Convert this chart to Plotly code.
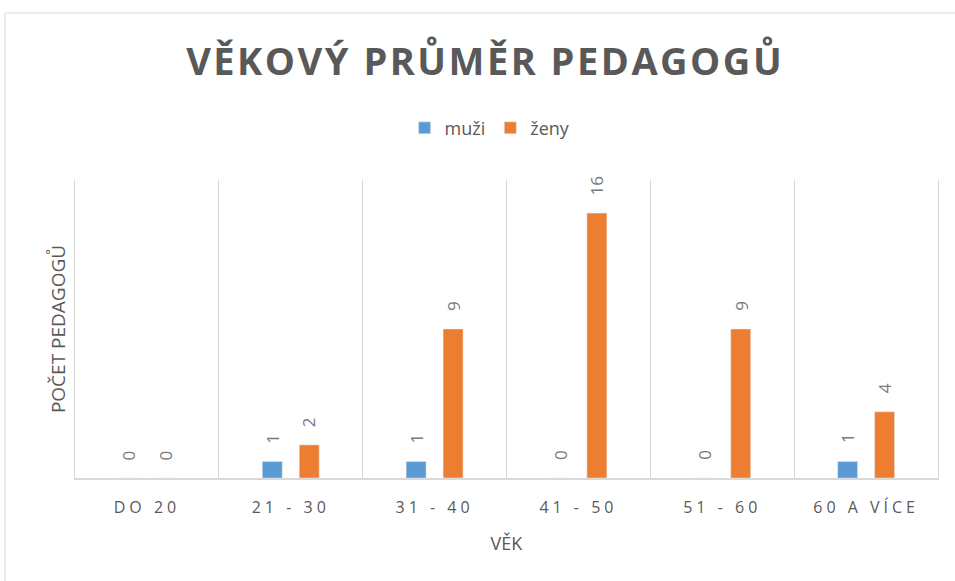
import plotly.graph_objects as go

categories = ["DO 20", "21 - 30", "31 - 40", "41 - 50", "51 - 60", "60 A VÍCE"]
muzi = [0, 1, 1, 0, 0, 1]
zeny = [0, 2, 9, 16, 9, 4]

GRAY = "#595959"
LINE = "#d9d9d9"
FONT = "Open Sans"

fig = go.Figure()
fig.add_trace(go.Bar(name="muži", x=categories, y=muzi, marker_color="#5B9BD5"))
fig.add_trace(go.Bar(name="ženy", x=categories, y=zeny, marker_color="#ED7D31"))

# data labels, rotated, placed above each bar
annotations = []
for series, shift in ((muzi, -18.5), (zeny, 18.5)):
    for cat, val in zip(categories, series):
        annotations.append(dict(
            x=cat, y=val, xref="x", yref="y", text=str(val), showarrow=False,
            textangle=-90, xanchor="center", yanchor="bottom",
            xshift=shift, yshift=16,
            font=dict(family=FONT, size=17, color="#7a7a7a"),
        ))

fig.update_layout(
    width=955, height=581,
    paper_bgcolor="white", plot_bgcolor="white",
    margin=dict(l=75, r=17, t=180, b=103),
    barmode="group", bargap=0.486, bargroupgap=0.46,
    title=dict(text="<b>VĚKOVÝ PRŮMĚR PEDAGOGŮ</b>", x=0.508, xanchor="center",
               y=0.8933, yanchor="middle",
               font=dict(family=FONT, size=38, color=GRAY)),
    legend=dict(orientation="h", x=0.481, xanchor="center", y=1.174, yanchor="middle",
                font=dict(family=FONT, size=18, color=GRAY),
                itemwidth=30, traceorder="normal"),
    font=dict(family=FONT, color=GRAY),
    annotations=annotations,
    shapes=[dict(type="rect", xref="paper", yref="paper",
                 x0=(5 - 75) / 863, x1=1.1, y0=-0.6, y1=(478 - 13) / 298,
                 line=dict(color=LINE, width=1), fillcolor="rgba(0,0,0,0)",
                 layer="below")],
)
fig.update_xaxes(
    tickson="boundaries", showgrid=True, gridcolor=LINE, gridwidth=1,
    showline=True, linecolor=LINE, linewidth=2, ticks="",
    ticklabelstandoff=14,
    tickfont=dict(family=FONT, size=16, color=GRAY),
    title=dict(text="VĚK", font=dict(family=FONT, size=18, color=GRAY), standoff=20),
)
fig.update_yaxes(
    range=[0, 18], showgrid=False, showticklabels=False, zeroline=False, ticks="",
    showline=True, mirror=True, linecolor=LINE, linewidth=1,
    title=dict(text="POČET PEDAGOGŮ", font=dict(family=FONT, size=19, color=GRAY), standoff=3),
)

post = """
document.body.style.margin = '0';
var gd = document.getElementById('{plot_id}');
gd.querySelectorAll('.xtick text').forEach(function(t){ t.style.letterSpacing = '4px'; });
gd.querySelectorAll('.gtitle').forEach(function(t){ t.style.letterSpacing = '2.5px'; });
"""

fig.write_html("out.html", post_script=post, config={"displayModeBar": False})
